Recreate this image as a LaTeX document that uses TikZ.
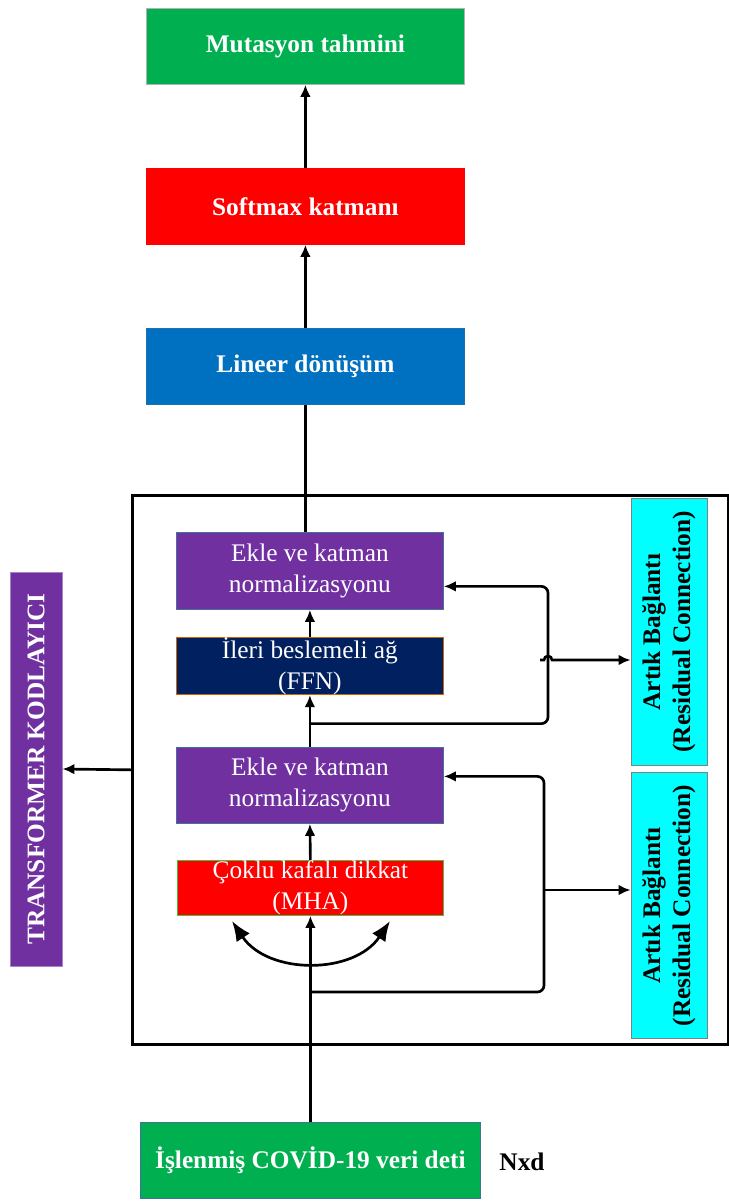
\documentclass[tikz,border=0pt]{standalone}
\usepackage{fontspec}
\setmainfont{Liberation Serif}
\usetikzlibrary{arrows.meta,calc}

\definecolor{boxgreen}{HTML}{00B050}
\definecolor{boxred}{HTML}{FF0000}
\definecolor{boxblue}{HTML}{0070C0}
\definecolor{boxpurple}{HTML}{7030A0}
\definecolor{boxnavy}{HTML}{002060}
\definecolor{boxcyan}{HTML}{00FFFF}
\definecolor{edgeblue}{HTML}{41719C}

\begin{document}
\begin{tikzpicture}[x=0.75pt, y=-0.75pt, >={Latex[length=9pt,width=8pt]}, line width=2pt,
  blk/.style={inner sep=0pt, align=center, text=white, line width=0.6pt},
  big/.style={blk, anchor=north west, minimum width=238.5pt, minimum height=57pt,
    font=\fontsize{19}{23}\selectfont\bfseries},
  mid/.style={blk, anchor=north west, minimum width=200.25pt,
    font=\fontsize{19}{23.25}\selectfont},
  side/.style={blk, rotate=90, text=black, fill=boxcyan, draw=gray, minimum width=200pt,
    minimum height=57pt, font=\fontsize{19}{22.5}\selectfont\bfseries}]
  \useasboundingbox (0,0) rectangle (728,1201);

  % encoder frame
  \node[draw, anchor=north west, inner sep=0pt, minimum width=447pt,
    minimum height=411.75pt] (enc) at (131,494) {};

  % output side
  \node[big, fill=boxgreen, draw=gray!60] (mut) at (146,8) {Mutasyon tahmini};
  \node[big, fill=boxred, draw=boxred] (soft) at (146,168) {Softmax katmanı};
  \node[big, fill=boxblue, draw=boxblue!80!gray] (lin) at (146,328) {Lineer dönüşüm};

  % encoder blocks
  \node[mid, fill=boxpurple, draw=edgeblue, minimum height=57.75pt] (ekle1) at (176,532)
    {Ekle ve katman\\normalizasyonu};
  \node[mid, fill=boxnavy, draw=orange!80!black, minimum height=42pt] (ffn) at (176,637)
    {İleri beslemeli ağ\\(FFN)};
  \node[mid, fill=boxpurple, draw=edgeblue, minimum height=57pt] (ekle2) at (176,747)
    {Ekle ve katman\\normalizasyonu};
  \node[mid, fill=boxred, draw=green!50!gray, minimum width=199.5pt, minimum height=41.25pt]
    (mha) at (177,860) {Çoklu kafalı dikkat\\(MHA)};

  % input
  \node[big, fill=boxgreen, draw=edgeblue, minimum width=255pt] (inp) at (140,1122)
    {İşlenmiş COVİD-19 veri deti};
  \node[font=\fontsize{19}{23}\selectfont\bfseries] (nxd) at (522,1162) {Nxd};

  % side labels (rotated: north is the left side)
  \node[side] (res1) at (669,632) {Artık Bağlantı\\(Residual Connection)};
  \node[side] (res2) at (669,905.5) {Artık Bağlantı\\(Residual Connection)};
  \node[blk, rotate=90, fill=boxpurple, draw=boxpurple!60, minimum width=295.5pt,
    minimum height=39pt, font=\fontsize{19}{23}\selectfont\bfseries] (tr) at (36,769)
    {TRANSFORMER KODLAYICI};

  % main flow
  \draw[->] (inp.north) -- (mha.south);
  \draw[->] (mha.north) -- (ekle2.south);
  \draw[->] (ekle2.north) -- (ffn.south);
  \draw[->] (ffn.north) -- (ekle1.south);
  \draw (lin.south) -- (lin.south |- ekle1.north);
  \draw[->] (lin.north) -- (soft.south);
  \draw[->] (soft.north) -- (mut.south);
  \draw[->] (enc.west) -- (tr.south);

  % residual paths
  \coordinate (b1) at ($(ffn.south)!0.55!(ekle2.north)$);
  \coordinate (c1) at (548,660);
  \coordinate (e1) at ([yshift=-11.6pt]ekle1.east);
  \draw[->, rounded corners=5pt] (b1) -- (b1 -| c1) -- (c1 |- e1) -- (e1);
  \draw[->] ([xshift=-6pt]c1) -- ([xshift=-3pt]c1)
    arc[start angle=180, end angle=0, radius=3pt] -- (c1 -| res1.north);

  \coordinate (b2) at (310,992);
  \coordinate (c2) at (544,890);
  \coordinate (e2) at ([yshift=6.75pt]ekle2.east);
  \draw[->, rounded corners=5pt] (b2) -- (b2 -| c2) -- (c2 |- e2) -- (e2);
  \draw[->] (c2) -- (c2 -| res2.north);

  % attention heads
  \coordinate (m1) at (232,921);
  \coordinate (m2) at (390,921);
  \draw[{Latex[length=15pt,width=12pt]}-{Latex[length=15pt,width=12pt]}]
    (m1) .. controls (268,975) and (354,975) .. (m2);
\end{tikzpicture}
\end{document}
